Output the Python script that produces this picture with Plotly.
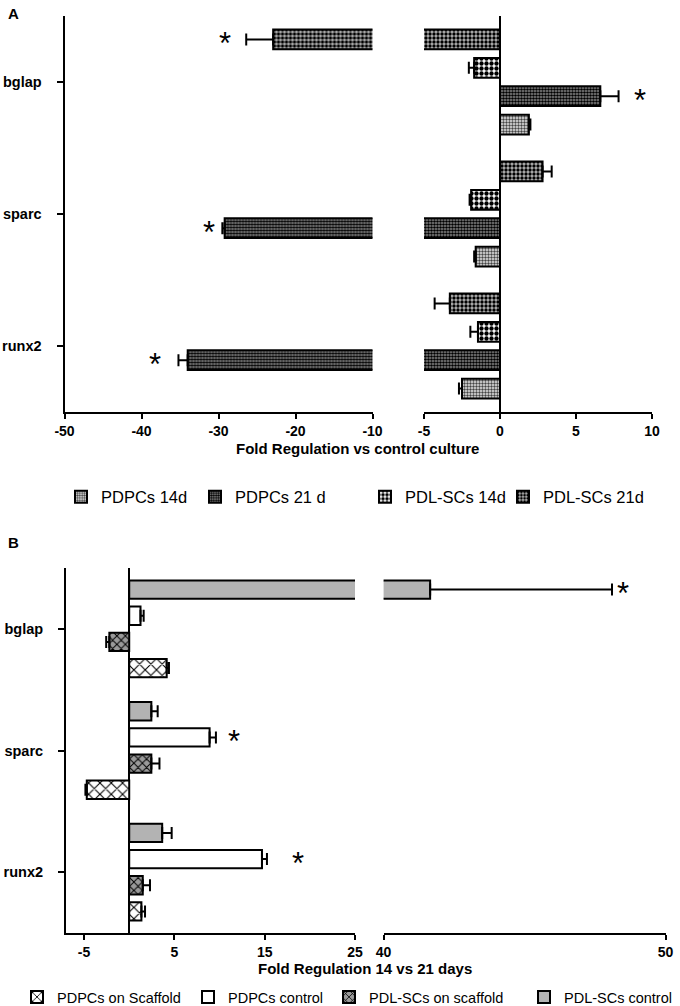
import plotly.graph_objects as go

W, H = 680, 1006

genes = ["bglap", "sparc", "runx2"]

# panel A: fold regulation vs control culture (values per gene, same order as genes)
a_pdpcs_14 = [1.9, -1.6, -2.5]
a_pdpcs_14_err = [0.1, 0.1, 0.2]
a_pdpcs_21 = [6.6, -29.2, -34.0]
a_pdpcs_21_err = [1.2, 0.3, 1.2]
a_pdl_14 = [-1.7, -1.9, -1.45]
a_pdl_14_err = [0.35, 0.1, 0.5]
a_pdl_21 = [-22.9, 2.8, -3.3]
a_pdl_21_err = [3.5, 0.6, 1.0]
a_stars = [("bglap", "PDL-SCs 21d", -29.1), ("bglap", "PDPCs 21 d", 9.2),
           ("sparc", "PDPCs 21 d", -31.2), ("runx2", "PDPCs 21 d", -38.2)]
a_ticks_left = [-50, -40, -30, -20, -10]
a_ticks_right = [-5, 0, 5, 10]

# panel B: fold regulation 14 vs 21 days
b_pdpcs_scaffold = [4.15, -4.7, 1.35]
b_pdpcs_scaffold_err = [0.25, 0.15, 0.4]
b_pdpcs_control = [1.25, 8.9, 14.7]
b_pdpcs_control_err = [0.35, 0.7, 0.55]
b_pdl_scaffold = [-2.2, 2.45, 1.5]
b_pdl_scaffold_err = [0.35, 0.9, 0.8]
b_pdl_control = [41.65, 2.45, 3.65]
b_pdl_control_err = [6.45, 0.7, 1.05]
b_stars = [("bglap", "PDL-SCs control", 48.5), ("sparc", "PDPCs control", 11.6),
           ("runx2", "PDPCs control", 18.7)]
b_ticks_left = [-5, 5, 15, 25]
b_ticks_right = [40, 50]

BARGAP = 0.14
FONT = "Arial"


def px_x(p):
    return p / W


def px_y(p):
    return 1 - p / H


def err_dict(vals, errs):
    return dict(type="data", symmetric=False,
                array=[e if v > 0 else 0 for v, e in zip(vals, errs)],
                arrayminus=[e if v < 0 else 0 for v, e in zip(vals, errs)],
                thickness=2, width=6, color="black")


# bottom-to-top order inside each gene group, with legend slot (x of legend box in px)
a_traces = [
    ("PDPCs 14d", a_pdpcs_14, a_pdpcs_14_err, dict(shape=".", size=3, solidity=0.5, fgcolor="#444", bgcolor="#e8e8e8"), 61),
    ("PDPCs 21 d", a_pdpcs_21, a_pdpcs_21_err, dict(shape=".", size=3, solidity=0.6, fgcolor="black", bgcolor="#909090"), 195),
    ("PDL-SCs 14d", a_pdl_14, a_pdl_14_err, dict(shape=".", size=5, solidity=0.6, fgcolor="black", bgcolor="white"), 365),
    ("PDL-SCs 21d", a_pdl_21, a_pdl_21_err, dict(shape=".", size=4, solidity=0.55, fgcolor="black", bgcolor="#b4b4b4"), 503),
]
b_traces = [
    ("PDPCs on Scaffold", b_pdpcs_scaffold, b_pdpcs_scaffold_err, dict(shape="x", size=8, solidity=0.25, fgcolor="black", bgcolor="white"), 17),
    ("PDL-SCs on scaffold", b_pdl_scaffold, b_pdl_scaffold_err, dict(shape="x", size=6, solidity=0.3, fgcolor="black", bgcolor="#9a9a9a"), 329),
    ("PDPCs control", b_pdpcs_control, b_pdpcs_control_err, None, 188),
    ("PDL-SCs control", b_pdl_control, b_pdl_control_err, None, 524),
]
b_colors = {"PDPCs control": "white", "PDL-SCs control": "#b3b3b3"}

fig = go.Figure()
legend_layout = {}
n_leg = 0


def add_panel(traces, xaxes, yaxis, legend_y, legend_font):
    global n_leg
    for name, vals, errs, pattern, leg_x in traces:
        n_leg += 1
        leg_key = "legend" if n_leg == 1 else f"legend{n_leg}"
        legend_layout[leg_key] = dict(
            x=px_x(leg_x), y=px_y(legend_y), xanchor="left", yanchor="middle",
            orientation="h", bgcolor="rgba(0,0,0,0)", borderwidth=0,
            font=dict(family=FONT, size=legend_font, color="black"), itemclick=False,
        )
        marker = dict(line=dict(color="black", width=2))
        if pattern:
            marker["color"] = pattern["bgcolor"]
            marker["pattern"] = dict(fillmode="replace", **pattern)
        else:
            marker["color"] = b_colors[name]
        for i, xa in enumerate(xaxes):
            fig.add_trace(go.Bar(
                y=genes, x=vals, orientation="h", name=name, marker=marker,
                error_x=err_dict(vals, errs), xaxis=xa, yaxis=yaxis,
                showlegend=(i == 0), legend=leg_key, hoverinfo="skip",
            ))


add_panel(a_traces, ["x", "x2"], "y", 497, 16.5)
add_panel(b_traces, ["x3", "x4"], "y2", 997, 14.5)

cat_order = genes[::-1]
slot = (1 - BARGAP) / 4


def star_annotations(stars, traces, left_axis, right_axis, left_max, yref):
    order = [t[0] for t in traces]
    out = []
    for gene, series, pos in stars:
        yy = cat_order.index(gene) + (order.index(series) - 1.5) * slot
        out.append(dict(x=pos, y=yy, xref=left_axis if pos <= left_max else right_axis, yref=yref,
                        text="*", showarrow=False, xanchor="center", yanchor="middle", yshift=-4,
                        font=dict(family=FONT, size=31, color="black")))
    return out


annotations = []
annotations += star_annotations(a_stars, a_traces, "x", "x2", a_ticks_left[-1], "y")
annotations += star_annotations(b_stars, b_traces, "x3", "x4", b_ticks_left[-1], "y2")

for text, x, y, size in [
    ("A", 13, 14, 15), ("B", 13, 542, 15),
    ("Fold Regulation vs control culture", 357, 448, 15),
    ("Fold Regulation 14 vs 21 days", 365, 968, 15),
]:
    annotations.append(dict(x=px_x(x), y=px_y(y), xref="paper", yref="paper", text=text,
                            showarrow=False, xanchor="center", yanchor="middle",
                            font=dict(family=FONT, size=size, color="black", weight="bold")))

tick_font = dict(family=FONT, size=14, color="black", weight="bold")
xcommon = dict(showline=True, linewidth=2, linecolor="black", ticks="outside", ticklen=5,
               tickwidth=2, tickcolor="black", showgrid=False, tickfont=tick_font,
               tickmode="array", automargin=False, fixedrange=True)
ycommon = dict(type="category", categoryorder="array", categoryarray=cat_order, range=[-0.5, 2.5],
               showline=True, linewidth=2, linecolor="black", ticks="outside", ticklen=6,
               tickwidth=2, tickcolor="black", showgrid=False, zeroline=False,
               tickfont=dict(family=FONT, size=14.5, color="black", weight="bold"),
               ticklabelstandoff=12, automargin=False, fixedrange=True)


def tick_text(vals):
    # plain hyphen minus, as in the original figure
    return [str(v) for v in vals]


fig.update_layout(
    width=W, height=H,
    margin=dict(l=0, r=0, t=0, b=0, autoexpand=False),
    paper_bgcolor="white", plot_bgcolor="white",
    barmode="group", bargap=BARGAP, bargroupgap=0.3,
    xaxis=dict(domain=[px_x(64.5), px_x(372.5)], range=[-50, -10], tickvals=a_ticks_left,
               ticktext=tick_text(a_ticks_left), anchor="y", zeroline=False, **xcommon),
    xaxis2=dict(domain=[px_x(424), px_x(652)], range=[-5, 10], tickvals=a_ticks_right,
                ticktext=tick_text(a_ticks_right), anchor="y", zeroline=True, zerolinewidth=2,
                zerolinecolor="black", **xcommon),
    xaxis3=dict(domain=[px_x(66), px_x(355)], range=[-7, 25], tickvals=b_ticks_left,
                ticktext=tick_text(b_ticks_left), anchor="y2", zeroline=True, zerolinewidth=2,
                zerolinecolor="black", **xcommon),
    xaxis4=dict(domain=[px_x(383.6), px_x(665.6)], range=[40, 50], tickvals=b_ticks_right,
                ticktext=tick_text(b_ticks_right), anchor="y2", zeroline=False, **xcommon),
    yaxis=dict(domain=[px_y(412), px_y(16)], anchor="x", **ycommon),
    yaxis2=dict(domain=[px_y(933), px_y(568)], anchor="x3", **ycommon),
    annotations=annotations,
    **legend_layout,
)

# page body margin would shift the figure; remove it
fig.write_html("out.html", config={"displayModeBar": False},
               post_script="document.body.style.margin='0px';")
